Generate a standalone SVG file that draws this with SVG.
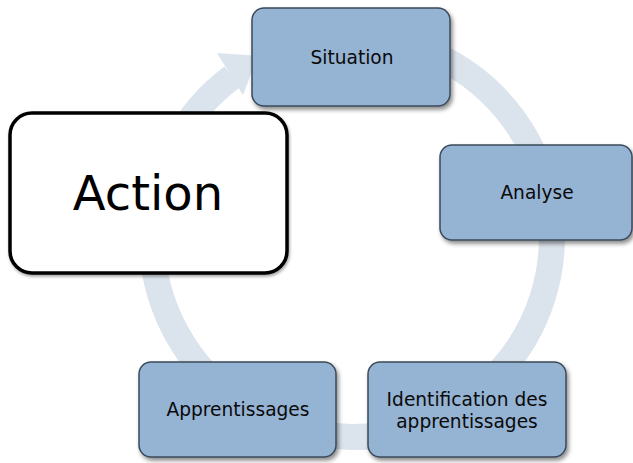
<svg xmlns="http://www.w3.org/2000/svg" width="633" height="463" viewBox="0 0 633 463">
  <defs>
    <filter id="sh" x="-10%" y="-10%" width="125%" height="130%">
      <feDropShadow dx="2" dy="3" stdDeviation="2" flood-color="#000" flood-opacity="0.45"/>
    </filter>
    <filter id="sh2" x="-10%" y="-10%" width="125%" height="130%">
      <feDropShadow dx="1" dy="2" stdDeviation="1.5" flood-color="#000" flood-opacity="0.35"/>
    </filter>
  </defs>
  <style>
    .ring { fill: none; stroke: #dbe3ec; stroke-width: 26; }
    .head { fill: #dbe3ec; }
    .node { fill: #95b3d3; stroke: #3b4a5a; stroke-width: 1.5; filter: url(#sh); }
    .act { fill: #ffffff; stroke: #000000; stroke-width: 3.5; filter: url(#sh2); }
    .lbl { font-family: "DejaVu Sans", sans-serif; font-size: 18.6px; fill: #0a0a0a; text-anchor: middle; }
    .big { font-family: "DejaVu Sans", sans-serif; font-size: 48px; fill: #000000; text-anchor: middle; }
  </style>
  <rect width="633" height="463" fill="#ffffff"/>
  <g id="connectors">
    <path class="ring" d="M 352 37 A 200 200 0 1 1 232.2 76.8"/>
    <polygon class="head" points="217,53 243,95 258,56"/>
  </g>
  <g id="node-action">
    <rect class="act" x="10" y="113" width="277" height="160" rx="22" ry="22"/>
    <text class="big" x="148" y="210">Action</text>
  </g>
  <g id="node-situation">
    <rect class="node" x="252" y="8" width="198" height="98" rx="12" ry="12"/>
    <text class="lbl" x="352" y="64">Situation</text>
  </g>
  <g id="node-analyse">
    <rect class="node" x="440" y="145" width="192" height="95" rx="12" ry="12"/>
    <text class="lbl" x="537" y="199">Analyse</text>
  </g>
  <g id="node-identification">
    <rect class="node" x="368" y="362" width="198" height="95" rx="12" ry="12"/>
    <text class="lbl" x="467" y="406">Identification des</text>
    <text class="lbl" x="467" y="428">apprentissages</text>
  </g>
  <g id="node-apprentissages">
    <rect class="node" x="139" y="362" width="197" height="95" rx="12" ry="12"/>
    <text class="lbl" x="238" y="416">Apprentissages</text>
  </g>
</svg>
